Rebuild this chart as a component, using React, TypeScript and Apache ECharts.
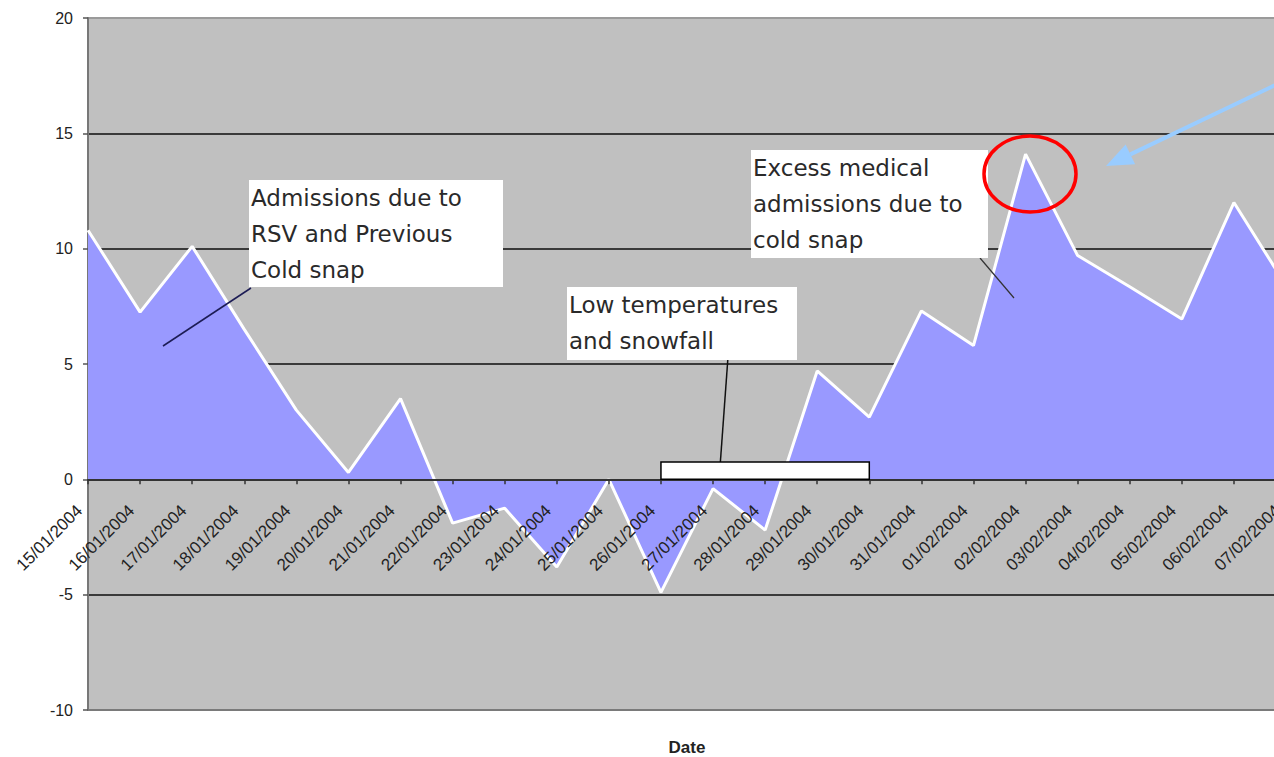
import React, { useEffect, useRef } from "react";
import * as echarts from "echarts";

const categories = [
  "15/01/2004", "16/01/2004", "17/01/2004", "18/01/2004", "19/01/2004", "20/01/2004",
  "21/01/2004", "22/01/2004", "23/01/2004", "24/01/2004", "25/01/2004", "26/01/2004",
  "27/01/2004", "28/01/2004", "29/01/2004", "30/01/2004", "31/01/2004", "01/02/2004",
  "02/02/2004", "03/02/2004", "04/02/2004", "05/02/2004", "06/02/2004", "07/02/2004",
];

const excessAdmissions = [
  10.8, 7.25, 10.1, 6.5, 3.0, 0.3, 3.5, -1.9, -1.25, -3.8, 0.0, -4.9,
  -0.4, -2.2, 4.7, 2.7, 7.3, 5.8, 14.1, 9.7, 8.35, 6.95, 12.0, 8.4,
];

const yTicks = { min: -10, max: 20, interval: 5 };

const noteRsv = ["Admissions due to", "RSV and Previous", "Cold snap"];
const noteExcess = ["Excess medical", "admissions due to", "cold snap"];
const noteLow = ["Low temperatures", "and snowfall"];
const snowSpan = { from: "26/01/2004", to: "30/01/2004", height: 0.75 };

const GRID = { left: 88, right: 14, top: 18, bottom: 47, height: 757 };

export default function App() {
  const ref = useRef<HTMLDivElement>(null);

  useEffect(() => {
    if (!ref.current) return;
    const chart = echarts.init(ref.current, undefined, { renderer: "svg" });
    const plotH = GRID.height - GRID.top - GRID.bottom;
    const zeroOffset = (plotH * (0 - yTicks.min)) / (yTicks.max - yTicks.min);

    chart.setOption({
      animation: false,
      backgroundColor: "#ffffff",
      grid: {
        left: GRID.left,
        right: GRID.right,
        top: GRID.top,
        bottom: GRID.bottom,
        containLabel: false,
        outerBoundsMode: "none",
        show: true,
        backgroundColor: "#c0c0c0",
        borderWidth: 0,
      },
      xAxis: {
        type: "category",
        data: categories,
        boundaryGap: false,
        position: "bottom",
        offset: -zeroOffset,
        z: 3,
        name: "Date",
        nameLocation: "middle",
        nameGap: 260,
        nameTextStyle: {
          fontFamily: "Liberation Sans, Arial, sans-serif",
          fontWeight: "bold",
          fontSize: 17,
          color: "#222",
        },
        axisLine: { onZero: false, lineStyle: { color: "#333", width: 2 } },
        axisTick: { show: true, length: 5, lineStyle: { color: "#333", width: 1.5 } },
        axisLabel: {
          interval: 0,
          rotate: 45,
          margin: 20,
          padding: [0, 12, 0, 0],
          fontFamily: "Liberation Sans, Arial, sans-serif",
          fontSize: 17,
          color: "#222",
        },
        splitLine: { show: false },
      },
      yAxis: {
        type: "value",
        min: yTicks.min,
        max: yTicks.max,
        interval: yTicks.interval,
        axisLine: { show: true, lineStyle: { color: "#777", width: 2 } },
        axisTick: { show: true, length: 5, lineStyle: { color: "#555", width: 1.5 } },
        axisLabel: {
          margin: 15,
          fontFamily: "Liberation Sans, Arial, sans-serif",
          fontSize: 16,
          color: "#222",
        },
        splitLine: {
          show: true,
          lineStyle: {
            color: ["#7a7a7a", "#3a3a3a", "#3a3a3a", "#3a3a3a", "#3a3a3a", "#3a3a3a", "#9a9a9a"],
            width: 2,
          },
        },
      },
      series: [
        {
          type: "line",
          data: excessAdmissions,
          symbol: "none",
          z: 2,
          lineStyle: { color: "#ffffff", width: 3 },
          areaStyle: { color: "#9999ff", opacity: 1 },
        },
      ],
    });

    const p0 = chart.convertToPixel({ xAxisIndex: 0, yAxisIndex: 0 }, [snowSpan.from, snowSpan.height]);
    const p1 = chart.convertToPixel({ xAxisIndex: 0, yAxisIndex: 0 }, [snowSpan.to, 0]);

    const noteFont = {
      fontFamily: "DejaVu Sans, Verdana, sans-serif",
      fontSize: 23,
      lineHeight: 36,
      fill: "#2a2a2a",
    };

    const box = (x: number, y: number, w: number, h: number, lines: string[]) => [
      { type: "rect", shape: { x, y, width: w, height: h }, style: { fill: "#ffffff" }, z: 10 },
      {
        type: "text",
        x: x + 2,
        y: y,
        z: 11,
        style: { ...noteFont, text: lines.join("\n"), verticalAlign: "top", align: "left" },
      },
    ];

    const tip = [1106, 166];
    const tail = [1290, 78];
    const dx = tail[0] - tip[0];
    const dy = tail[1] - tip[1];
    const len = Math.sqrt(dx * dx + dy * dy);
    const ux = dx / len;
    const uy = dy / len;
    const headLen = 27;
    const headHalf = 11;
    const bx = tip[0] + ux * headLen;
    const by = tip[1] + uy * headLen;
    const px = -uy;
    const py = ux;

    chart.setOption({
      graphic: {
        elements: [
          { type: "line", z: 9, shape: { x1: 163, y1: 346, x2: 251, y2: 288 }, style: { stroke: "#1c1c55", lineWidth: 1.5 } },
          { type: "line", z: 9, shape: { x1: 980, y1: 258, x2: 1014, y2: 298 }, style: { stroke: "#333", lineWidth: 1.2 } },
          { type: "line", z: 9, shape: { x1: 728, y1: 357, x2: 720, y2: 467 }, style: { stroke: "#111", lineWidth: 1.5 } },
          ...box(249, 180, 254, 107, noteRsv),
          ...box(751, 150, 237, 108, noteExcess),
          ...box(567, 287, 230, 73, noteLow),
          {
            type: "rect",
            z: 12,
            shape: { x: p0[0], y: p0[1], width: p1[0] - p0[0], height: p1[1] - p0[1] },
            style: { fill: "#ffffff", stroke: "#000000", lineWidth: 1.5 },
          },
          {
            type: "ellipse",
            z: 12,
            shape: { cx: 1030, cy: 174, rx: 46, ry: 38 },
            style: { fill: "none", stroke: "#ff0000", lineWidth: 3.5 },
          },
          {
            type: "line",
            z: 12,
            shape: { x1: tail[0], y1: tail[1], x2: bx, y2: by },
            style: { stroke: "#99ccff", lineWidth: 4 },
          },
          {
            type: "polygon",
            z: 12,
            shape: {
              points: [
                [tip[0], tip[1]],
                [bx + px * headHalf, by + py * headHalf],
                [bx - px * headHalf, by - py * headHalf],
              ],
            },
            style: { fill: "#99ccff" },
          },
        ],
      },
    });

    return () => chart.dispose();
  }, []);

  return (
    <div
      style={{
        position: "fixed",
        left: 0,
        top: 0,
        width: 1274,
        height: 757,
        overflow: "hidden",
        background: "#fff",
      }}
    >
      <div ref={ref} style={{ width: 1300, height: GRID.height }} />
    </div>
  );
}
